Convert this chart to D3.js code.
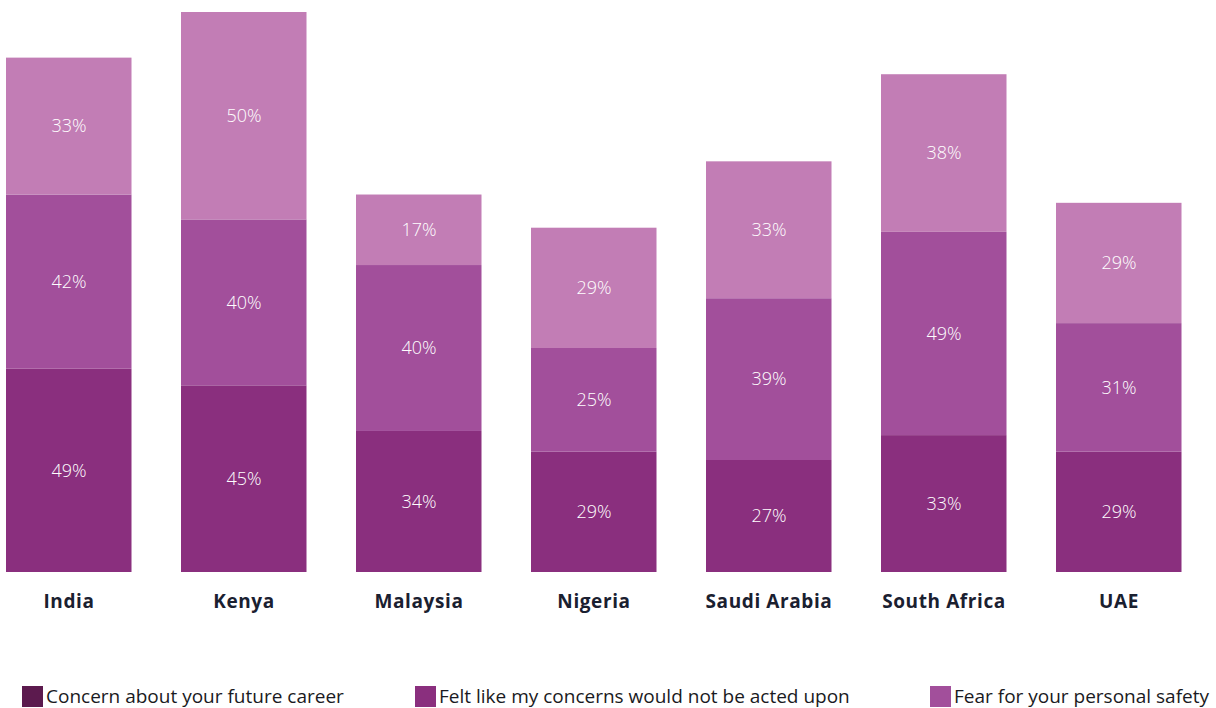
<!DOCTYPE html>
<html><head><meta charset="utf-8">
<script src="https://cdn.jsdelivr.net/npm/d3@7"></script>
<style>
html,body{margin:0;padding:0;background:#fff;}
svg{display:block;font-family:"Open Sans","Noto Sans",sans-serif;}
</style></head>
<body><svg id="c" width="1216" height="708"></svg>
<script>
const categories = ["India","Kenya","Malaysia","Nigeria","Saudi Arabia","South Africa","UAE"];
const seriesNames = ["Concern about your future career","Felt like my concerns would not be acted upon","Fear for your personal safety"];
const career = [49,45,34,29,27,33,29];
const actedUpon = [42,40,40,25,39,49,31];
const safety = [33,50,17,29,33,38,29];

const barColors = ["#8a2f7e","#a24f9b","#c27db5"];
const legendColors = ["#5c1a4e","#8a2f7e","#a24f9b"];

const svg = d3.select("#c");
const x = d3.scaleBand().domain(categories).range([-18.5,1206.5]).paddingInner(0.28).paddingOuter(0.14);
const y = d3.scaleLinear().domain([0,135]).range([572,12]);

const rows = categories.map((c,i)=>({cat:c, s0:career[i], s1:actedUpon[i], s2:safety[i]}));
const stack = d3.stack().keys(["s0","s1","s2"])(rows);

const g = svg.append("g");
stack.forEach((layer,li)=>{
  const lg = g.append("g");
  lg.selectAll("rect").data(layer).join("rect")
    .attr("x",d=>x(d.data.cat))
    .attr("width",x.bandwidth()-0.5)
    .attr("y",d=>y(d[1]))
    .attr("height",d=>y(d[0])-y(d[1]))
    .attr("fill",barColors[li]);
  lg.selectAll("text").data(layer).join("text")
    .attr("x",d=>x(d.data.cat)+x.bandwidth()/2)
    .attr("y",d=>(y(d[0])+y(d[1]))/2)
    .attr("dy","0.35em")
    .attr("text-anchor","middle")
    .attr("fill","#fff")
    .attr("font-size",18)
    .attr("font-weight",300)
    .text(d=>(d[1]-d[0])+"%");
});

const xAxis = d3.axisBottom(x).tickSize(0).tickPadding(0);
const ax = svg.append("g").attr("transform","translate(0,608)").call(xAxis);
ax.select(".domain").remove();
ax.selectAll("text").attr("dy",0).attr("font-size",19).attr("font-weight",700)
  .attr("letter-spacing","0.6px")
  .attr("fill","#1a2030").attr("font-family","'Open Sans','Noto Sans',sans-serif");

const legX = [22,415,930];
const leg = svg.append("g");
seriesNames.forEach((n,i)=>{
  leg.append("rect").attr("x",legX[i]).attr("y",686).attr("width",21).attr("height",21).attr("fill",legendColors[i]);
  leg.append("text").attr("x",legX[i]+24).attr("y",703).attr("font-size",19).attr("fill","#1a1a22").text(n);
});
</script></body></html>
